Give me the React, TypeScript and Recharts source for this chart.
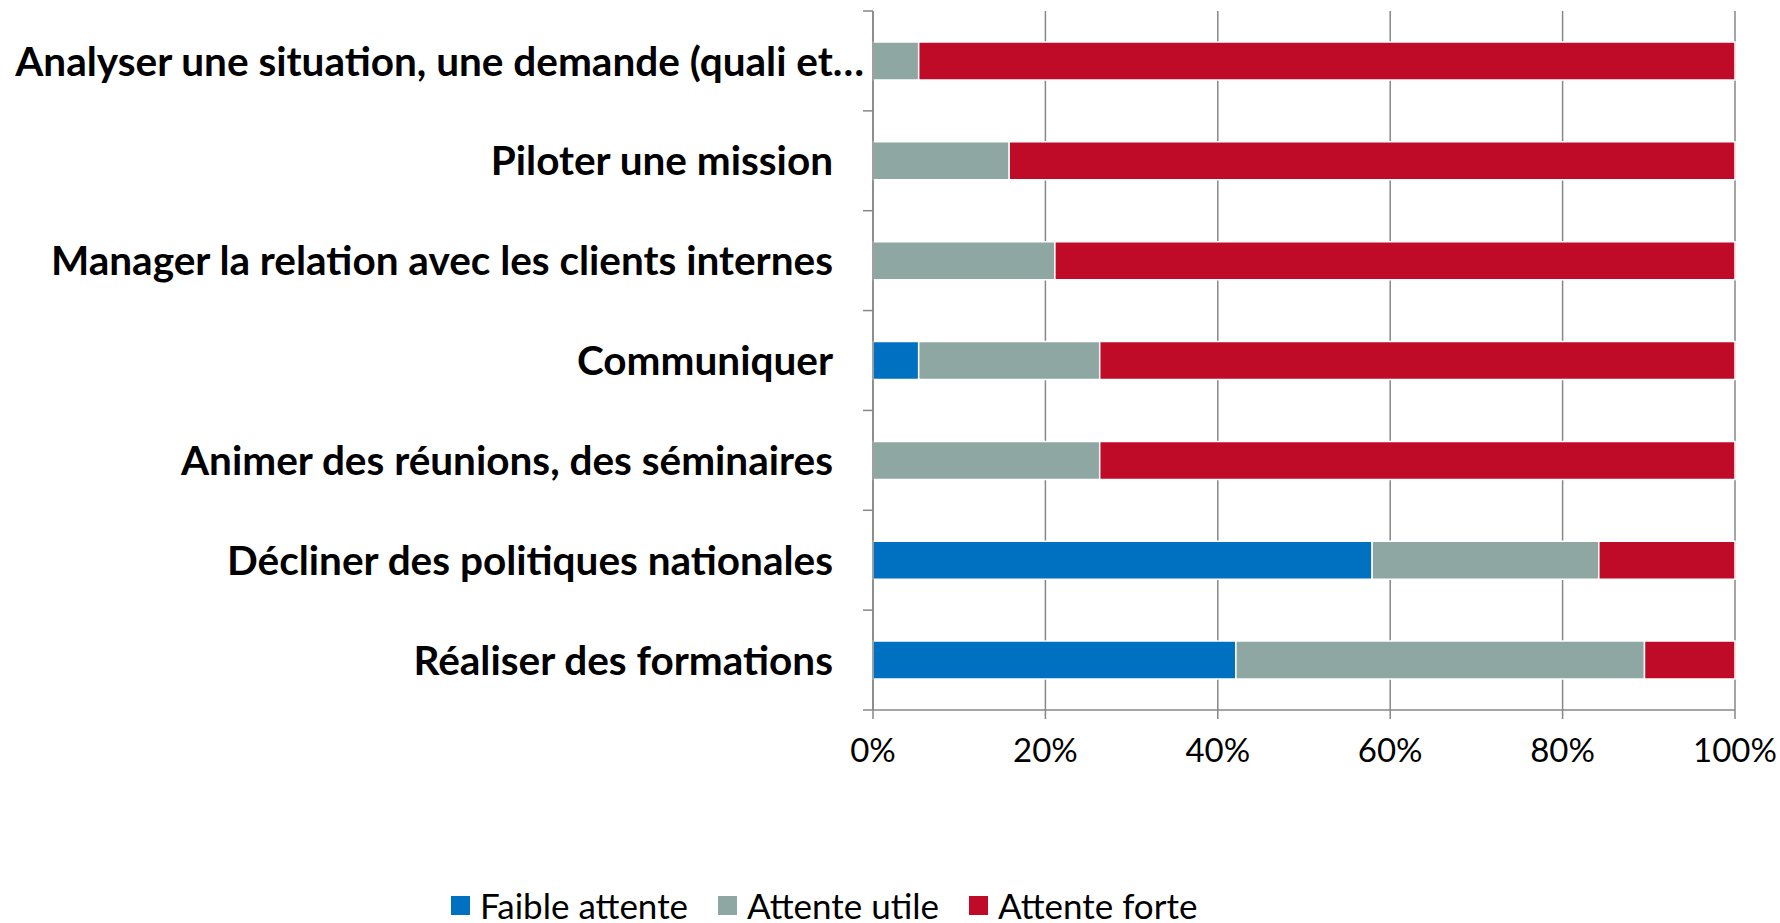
import React from 'react';
import {
  Bar,
  BarChart,
  CartesianGrid,
  Legend,
  XAxis,
  YAxis,
} from 'recharts';

// categories, top to bottom
const categories = [
  'Analyser une situation, une demande (quali et…',
  'Piloter une mission',
  'Manager la relation avec les clients internes',
  'Communiquer',
  'Animer des réunions, des séminaires',
  'Décliner des politiques nationales',
  'Réaliser des formations',
];

// share of answers, %
const faibleAttente = [0, 0, 0, 5.3, 0, 57.9, 42.1];
const attenteUtile = [5.3, 15.8, 21.1, 21.0, 26.3, 26.3, 47.4];
const attenteForte = [94.7, 84.2, 78.9, 73.7, 73.7, 15.8, 10.5];

const xTicks = [0, 20, 40, 60, 80, 100];

const series = [
  { key: 'faible', name: 'Faible attente', color: '#0070C0' },
  { key: 'utile', name: 'Attente utile', color: '#8FA7A2' },
  { key: 'forte', name: 'Attente forte', color: '#C00B28' },
];

const data = categories.map((name, i) => ({
  name,
  faible: faibleAttente[i],
  utile: attenteUtile[i],
  forte: attenteForte[i],
}));

const GRID = '#878787';
const FONT = 'Lato, "Open Sans", sans-serif';

// label + Excel-style tick marks between categories
const CategoryTick = (props: any) => {
  const { x, y, payload, index, visibleTicksCount, height } = props;
  const label: string = payload.value;
  const band = height / visibleTicksCount;
  const gap = label.endsWith('…') ? 9 : 40;
  return (
    <g>
      <line x1={x - 10} x2={x} y1={y - band / 2} y2={y - band / 2} stroke={GRID} strokeWidth={1.5} />
      {index === visibleTicksCount - 1 && (
        <line x1={x - 10} x2={x} y1={y + band / 2} y2={y + band / 2} stroke={GRID} strokeWidth={1.5} />
      )}
      <text
        x={x - gap}
        y={y}
        dy="0.36em"
        textAnchor="end"
        fill="#000"
        fontFamily={FONT}
        fontWeight={700}
        fontSize={40.5}
      >
        {label}
      </text>
    </g>
  );
};

const LegendContent = () => (
  <div
    style={{
      display: 'flex',
      alignItems: 'center',
      boxSizing: 'border-box',
      marginLeft: 451,
      paddingTop: 4,
      height: 40,
      fontFamily: FONT,
      fontSize: 35,
      lineHeight: 1,
      color: '#000',
    }}
  >
    {series.map((s) => (
      <div key={s.key} style={{ display: 'flex', alignItems: 'center', marginRight: 30 }}>
        <span
          style={{
            display: 'inline-block',
            width: 19,
            height: 19,
            background: s.color,
            marginRight: 10,
          }}
        />
        <span style={{ lineHeight: 1 }}>{s.name}</span>
      </div>
    ))}
  </div>
);

const App: React.FC = () => {
  return (
    <div style={{ position: 'absolute', left: 0, top: 0, background: '#fff' }}>
      <BarChart
        width={1780}
        height={923}
        data={data}
        layout="vertical"
        barCategoryGap="31%"
        margin={{ top: 11, right: 45, left: 0, bottom: 0 }}
      >
        <CartesianGrid horizontal={false} stroke={GRID} strokeWidth={1.5} />
        <XAxis
          type="number"
          domain={[0, 100]}
          ticks={xTicks}
          tickFormatter={(v) => `${v}%`}
          axisLine={{ stroke: GRID, strokeWidth: 1.5 }}
          tickLine={{ stroke: GRID, strokeWidth: 1.5 }}
          tickSize={9}
          tickMargin={20}
          height={173}
          tick={{ fill: '#000', fontFamily: FONT, fontSize: 33 }}
        />
        <YAxis
          type="category"
          dataKey="name"
          width={873}
          axisLine={{ stroke: GRID, strokeWidth: 1.5 }}
          tickLine={false}
          tickSize={0}
          tickMargin={0}
          interval={0}
          tick={<CategoryTick />}
        />
        {series.map((s) => (
          <Bar
            key={s.key}
            dataKey={s.key}
            name={s.name}
            stackId="a"
            fill={s.color}
            stroke="#fff"
            strokeWidth={1.5}
            isAnimationActive={false}
          />
        ))}
        <Legend verticalAlign="bottom" align="left" height={40} content={<LegendContent />} />
      </BarChart>
    </div>
  );
};

export default App;
